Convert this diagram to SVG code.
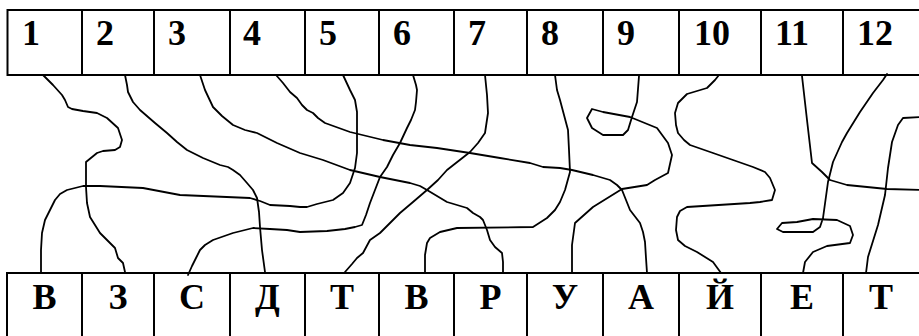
<svg xmlns="http://www.w3.org/2000/svg" width="919" height="336" viewBox="0 0 919 336">
<style>
.cell{fill:#fff;stroke:#000;stroke-width:2}
.num{font-family:"Liberation Serif","Times New Roman",serif;font-weight:bold;font-size:36px;fill:#000}
.let{font-family:"Liberation Serif","Times New Roman",serif;font-weight:bold;font-size:36px;fill:#000;text-anchor:middle}
.c{fill:none;stroke:#000;stroke-width:1.8;stroke-linejoin:round;stroke-linecap:round}
</style>
<rect width="919" height="336" fill="#fff"/>
<g id="top-row">
<g id="n1"><rect class="cell" x="7.5" y="10" width="74.5" height="65"/><text class="num" x="22" y="45">1</text></g>
<g id="n2"><rect class="cell" x="82" y="10" width="72" height="65"/><text class="num" x="96" y="45">2</text></g>
<g id="n3"><rect class="cell" x="154" y="10" width="76" height="65"/><text class="num" x="168" y="45">3</text></g>
<g id="n4"><rect class="cell" x="230" y="10" width="75" height="65"/><text class="num" x="243" y="45">4</text></g>
<g id="n5"><rect class="cell" x="305" y="10" width="74" height="65"/><text class="num" x="319" y="45">5</text></g>
<g id="n6"><rect class="cell" x="379" y="10" width="75" height="65"/><text class="num" x="393" y="45">6</text></g>
<g id="n7"><rect class="cell" x="454" y="10" width="73" height="65"/><text class="num" x="468" y="45">7</text></g>
<g id="n8"><rect class="cell" x="527" y="10" width="76" height="65"/><text class="num" x="541" y="45">8</text></g>
<g id="n9"><rect class="cell" x="603" y="10" width="76" height="65"/><text class="num" x="617" y="45">9</text></g>
<g id="n10"><rect class="cell" x="679" y="10" width="82" height="65"/><text class="num" x="694" y="45">10</text></g>
<g id="n11"><rect class="cell" x="761" y="10" width="82" height="65"/><text class="num" x="775" y="45">11</text></g>
<g id="n12"><rect class="cell" x="843" y="10" width="80" height="65"/><text class="num" x="857" y="45">12</text></g>
</g>
<g id="bottom-row">
<g id="l1"><rect class="cell" x="7" y="273" width="75" height="70"/><text class="let" x="44.5" y="309">В</text></g>
<g id="l2"><rect class="cell" x="82" y="273" width="72" height="70"/><text class="let" x="118" y="309">З</text></g>
<g id="l3"><rect class="cell" x="154" y="273" width="76" height="70"/><text class="let" x="192" y="309">С</text></g>
<g id="l4"><rect class="cell" x="230" y="273" width="75" height="70"/><text class="let" x="267.5" y="309">Д</text></g>
<g id="l5"><rect class="cell" x="305" y="273" width="74" height="70"/><text class="let" x="342" y="309">Т</text></g>
<g id="l6"><rect class="cell" x="379" y="273" width="75" height="70"/><text class="let" x="416.5" y="309">В</text></g>
<g id="l7"><rect class="cell" x="454" y="273" width="73" height="70"/><text class="let" x="490.5" y="309">Р</text></g>
<g id="l8"><rect class="cell" x="527" y="273" width="76" height="70"/><text class="let" x="565" y="309">У</text></g>
<g id="l9"><rect class="cell" x="603" y="273" width="76" height="70"/><text class="let" x="641" y="309">А</text></g>
<g id="l10"><rect class="cell" x="679" y="273" width="82" height="70"/><text class="let" x="720" y="309">Й</text></g>
<g id="l11"><rect class="cell" x="761" y="273" width="82" height="70"/><text class="let" x="802" y="309">Е</text></g>
<g id="l12"><rect class="cell" x="843" y="273" width="80" height="70"/><text class="let" x="881" y="309">Т</text></g>
</g>
<g id="connectors">
<polyline class="c" points="43,75 53,85 62,95 65,100 68,107 72,109 83,111 97,113 107,118 118,128 122,140 120,147 115,150 103,151 97,153 86,162 86,187 87,203 90,217 100,233 110,243 115,248 118,258 123,263 125,272"/>
<polyline class="c" points="125,75 127,85 128,92 133,102 140,110 155,123 167,133 177,142 187,150 203,158 220,165 228,167 233,170 240,175 247,183 253,190 257,198 259,212 260,227 262,250 265,272"/>
<polyline class="c" points="200,75 205,90 213,107 222,116 233,125 245,130 257,133 277,143 300,153 323,160 350,170 380,177 410,183 420,186 427,190 447,202 467,208 473,213 480,217 483,220 487,230 490,240 495,247 502,253 503,262 503,273"/>
<polyline class="c" points="276,75 283,83 290,92 297,98 302,105 307,110 313,113 318,118 325,123 350,132 383,140 410,145 437,148 470,153 500,158 530,163 543,167 560,168 572,170 593,175 610,180 617,185 622,190 626,200 630,210 640,223 643,232 645,242 646,258 647,273"/>
<polyline class="c" points="343,75 350,90 355,100 357,112 357,153 355,168 350,183 343,193 333,200 317,204 307,207 300,207 290,206 270,205 260,201 250,198 180,195 143,188 100,186 83,186 67,190 60,194 55,200 50,210 45,220 42,233 41,250 41,272"/>
<polyline class="c" points="413,75 416,85 417,90 416,102 415,110 411,120 407,128 400,143 393,155 387,167 380,177 375,190 370,203 366,215 362,225 355,227 345,229 327,231 300,232 287,230 270,229 253,228 233,233 213,240 205,245 200,250 196,258 192,266 188,275"/>
<polyline class="c" points="485,75 487,95 488,113 485,133 478,143 470,152 447,170 438,180 427,190 413,202 400,213 380,233 370,240 363,253 357,258 352,264 345,272"/>
<polyline class="c" points="555,75 557,90 560,100 568,130 569,150 570,172 565,190 560,202 555,210 547,218 533,227 457,228 440,232 430,238 427,243 425,255 425,273"/>
<polyline class="c" points="639,76 637,102 632,117 628,130 623,135 603,135 592,128 587,118 592,109 603,112 630,117 657,128 668,143 672,155 668,173 655,180 647,185 622,189 593,207 575,223 572,245 572,272"/>
<polyline class="c" points="719,75 715,80 707,88 687,94 678,103 675,113 676,125 678,133 684,140 690,145 713,153 733,160 753,167 765,172 770,178 775,190 772,200 760,202 750,203 687,207 680,211 677,217 676,230 678,240 685,246 697,252 713,262 721,273"/>
<polyline class="c" points="802,76 807,120 812,163 822,172 830,180 847,185 887,189 920,190"/>
<polyline class="c" points="887,74 883,80 873,93 860,112 847,133 842,142 833,162 828,182 823,218 820,227 813,232 783,232 777,229 782,223 797,222 813,219 837,220 850,226 853,235 850,243 827,246 813,252 805,262 803,273"/>
<polyline class="c" points="920,117 903,118 898,125 892,142 888,168 885,195 878,225 868,257 866,273"/>
</g>
</svg>
